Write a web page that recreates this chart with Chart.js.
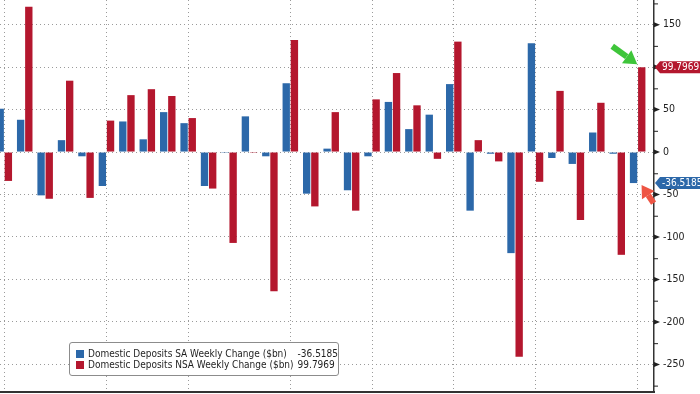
<!DOCTYPE html>
<html>
<head>
<meta charset="utf-8">
<script src="https://cdn.jsdelivr.net/npm/chart.js@4.4.0/dist/chart.umd.min.js"></script>
<style>
  html, body { margin: 0; padding: 0; background: #fff; }
  #wrap { position: relative; width: 700px; height: 394px; overflow: hidden; }
  #legend {
    position: absolute; left: 69px; top: 342px; width: 268px; height: 32px;
    border: 1px solid #8c8c8c; border-radius: 3px; background: #fff;
    font: 10px "DejaVu Sans Condensed", "DejaVu Sans", sans-serif; color: #1e1e1e;
  }
  #legend table { border-collapse: collapse; margin: 5px 0 0 6px; }
  #legend td { padding: 0; height: 11px; line-height: 11px; white-space: nowrap; }
  #legend .sw { display: inline-block; width: 8px; height: 8px; margin-right: 4px; vertical-align: -1px; }
  #legend .val { padding-left: 4px; }
</style>
</head>
<body>
<div id="wrap">
  <canvas id="depositsChart" width="700" height="394"></canvas>
  <div id="legend"></div>
</div>
<script>
// weekly change in domestic deposits, $bn
const seriesNames = [
  'Domestic Deposits SA Weekly Change ($bn)',
  'Domestic Deposits NSA Weekly Change ($bn)',
];
const saValues = [
  51, 38, -51, 14, -5, -40, 36, 15, 47, 34, -40, -1,
  42, -5, 81, -49, 4, -45, -5, 59, 27, 44, 80, -69,
  -2, -119, 128, -7, -14, 23, -2, -36.5185,
];
const nsaValues = [
  -34, 171, -55, 84, -54, 37, 67, 74, 66, 40, -43, -107,
  -1, -164, 132, -64, 47, -69, 62, 93, 55, -8, 130, 14,
  -11, -241, -35, 72, -80, 58, -121, 99.7969,
];
// week index where each month starts (vertical gridlines)
const monthStarts = [0, 5, 9, 14, 18, 22, 26, 31];
const yTickStep = 25;
const yLabelStep = 50;

const COLORS = ['#2c68a9', '#b4172e'];

const toPoints = (vals) => vals.map((v, i) => ({ x: i, y: v }));

function drawArrow(ctx, x1, y1, x2, y2, color, width, headLen, headW) {
  const a = Math.atan2(y2 - y1, x2 - x1);
  const bx = x2 - Math.cos(a) * headLen;
  const by = y2 - Math.sin(a) * headLen;
  ctx.save();
  ctx.strokeStyle = color;
  ctx.fillStyle = color;
  ctx.lineWidth = width;
  ctx.beginPath();
  ctx.moveTo(x1, y1);
  ctx.lineTo(bx, by);
  ctx.stroke();
  ctx.beginPath();
  ctx.moveTo(x2, y2);
  ctx.lineTo(bx + Math.sin(a) * headW / 2, by - Math.cos(a) * headW / 2);
  ctx.lineTo(bx - Math.sin(a) * headW / 2, by + Math.cos(a) * headW / 2);
  ctx.closePath();
  ctx.fill();
  ctx.restore();
}

function drawTag(ctx, x, y, text, color) {
  ctx.save();
  ctx.fillStyle = color;
  ctx.beginPath();
  ctx.moveTo(x, y);
  ctx.lineTo(x + 5, y - 6);
  ctx.lineTo(x + 50, y - 6);
  ctx.lineTo(x + 50, y + 6);
  ctx.lineTo(x + 5, y + 6);
  ctx.closePath();
  ctx.fill();
  ctx.fillStyle = '#fff';
  ctx.font = '10px "DejaVu Sans Condensed", "DejaVu Sans", sans-serif';
  ctx.textBaseline = 'middle';
  ctx.fillText(text, x + 7, y + 0.5);
  ctx.restore();
}

const extras = {
  id: 'extras',
  afterDraw(chart) {
    const ctx = chart.ctx;
    const y = chart.scales.y;
    const axisX = chart.chartArea.right;
    // tick marks on the right axis
    ctx.save();
    ctx.fillStyle = '#222';
    ctx.strokeStyle = '#222';
    ctx.lineWidth = 1;
    y.ticks.forEach((t) => {
      const py = y.getPixelForValue(t.value);
      if (t.value % yLabelStep === 0) {
        ctx.beginPath();
        ctx.moveTo(axisX, py - 2.5);
        ctx.lineTo(axisX + 6, py);
        ctx.lineTo(axisX, py + 2.5);
        ctx.closePath();
        ctx.fill();
      } else {
        ctx.beginPath();
        ctx.moveTo(axisX, py + 0.5);
        ctx.lineTo(axisX + 4, py + 0.5);
        ctx.stroke();
      }
    });
    ctx.restore();

    // last value tags
    const lastSa = saValues[saValues.length - 1];
    const lastNsa = nsaValues[nsaValues.length - 1];
    drawTag(ctx, axisX + 1, y.getPixelForValue(lastNsa), lastNsa.toFixed(4), COLORS[1]);
    drawTag(ctx, axisX + 1, y.getPixelForValue(lastSa), lastSa.toFixed(4), COLORS[0]);

    // arrows pointing at the latest bars
    const redBar = chart.getDatasetMeta(1).data[nsaValues.length - 1];
    const blueBar = chart.getDatasetMeta(0).data[saValues.length - 1];
    const gx = redBar.x - 4.5, gy = redBar.y - 3;
    drawArrow(ctx, gx - 25, gy - 18, gx, gy, '#3ec53a', 6, 13, 16);
    const rx = blueBar.x + 8, ry = blueBar.y + 2;
    drawArrow(ctx, rx + 12, ry + 18, rx, ry, '#ee5544', 6, 12, 15);
  }
};

new Chart(document.getElementById('depositsChart'), {
  type: 'bar',
  data: {
    datasets: [{
      label: seriesNames[0],
      data: toPoints(saValues),
      backgroundColor: COLORS[0],
    }, {
      label: seriesNames[1],
      data: toPoints(nsaValues),
      backgroundColor: COLORS[1],
    }]
  },
  options: {
    responsive: false,
    animation: false,
    events: [],
    layout: { padding: 0, autoPadding: false },
    categoryPercentage: 0.8,
    barPercentage: 0.9,
    plugins: {
      legend: { display: false },
      tooltip: { enabled: false },
    },
    scales: {
      x: {
        type: 'linear',
        offset: false,
        min: -0.21,
        max: 31.8,
        afterBuildTicks: (scale) => { scale.ticks = monthStarts.map((v) => ({ value: v })); },
        afterFit: (scale) => { scale.height = 2; scale.paddingLeft = 0; scale.paddingRight = 0; },
        ticks: { display: false },
        grid: { color: '#9a9a9a', lineWidth: 1, drawTicks: false, offset: false },
        border: { color: '#333', width: 2, dash: [1, 3] },
      },
      y: {
        position: 'right',
        min: -282.5,
        max: 179,
        afterFit: (scale) => { scale.width = 46; scale.paddingTop = 0; scale.paddingBottom = 0; },
        ticks: {
          stepSize: yTickStep,
          includeBounds: false,
          padding: 9,
          color: '#222',
          font: { family: '"DejaVu Sans Condensed", "DejaVu Sans", sans-serif', size: 10.5 },
          callback: (v) => (v % yLabelStep === 0 ? String(v) : ''),
        },
        grid: {
          drawTicks: false,
          lineWidth: 1,
          color: (c) => (c.tick && c.tick.value % yLabelStep === 0 ? '#9a9a9a' : 'rgba(0,0,0,0)'),
        },
        border: { color: '#333', width: 1.5, dash: [1, 3] },
      }
    }
  },
  plugins: [extras],
});

// legend built from the series names and last values
const legendRows = seriesNames.map((name, i) => {
  const vals = i === 0 ? saValues : nsaValues;
  return '<tr><td><span class="sw" style="background:' + COLORS[i] + '"></span>' + name +
    '</td><td class="val">' + vals[vals.length - 1].toFixed(4) + '</td></tr>';
});
document.getElementById('legend').innerHTML = '<table>' + legendRows.join('') + '</table>';
</script>
</body>
</html>
